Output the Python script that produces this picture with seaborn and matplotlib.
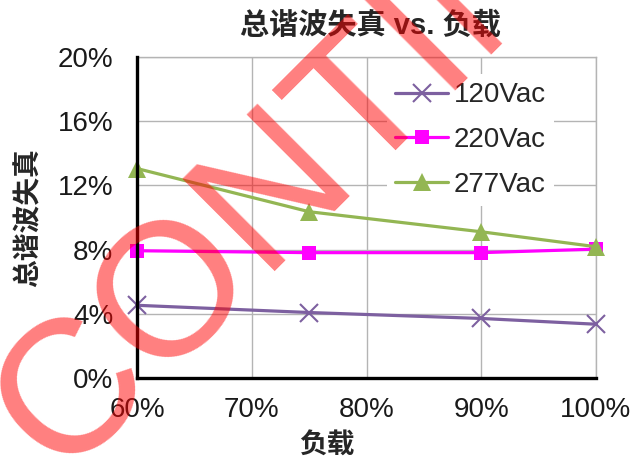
"""Total harmonic distortion vs. load, three input voltages."""

import matplotlib
matplotlib.use("Agg")
import matplotlib.pyplot as plt
import pandas as pd
import seaborn as sns
from matplotlib.ticker import FuncFormatter

# Load points (fraction of full load) and THD readings per input voltage.
LOAD = [0.60, 0.75, 0.90, 1.00]
THD_120 = [0.0453, 0.0408, 0.0371, 0.0335]
THD_220 = [0.0793, 0.0781, 0.0781, 0.0803]
THD_277 = [0.1305, 0.1036, 0.0911, 0.0818]
SERIES = ["120Vac", "220Vac", "277Vac"]
X_TICKS = [0.6, 0.7, 0.8, 0.9, 1.0]
Y_TICKS = [0.0, 0.04, 0.08, 0.12, 0.16, 0.20]

TITLE = "总谐波失真 vs. 负载"
XLABEL = "负载"
YLABEL = "总谐波失真"
WATERMARK = "CONTINENTAL"

_STYLE = {
    "120Vac": dict(color="#7D60A0", marker="x", markersize=13,
                   markeredgewidth=1.5, markeredgecolor="#7D60A0"),
    "220Vac": dict(color="#FF00FF", marker="s", markersize=10,
                   markeredgewidth=0, markeredgecolor="#FF00FF"),
    "277Vac": dict(color="#93B653", marker="^", markersize=13,
                   markeredgewidth=0, markeredgecolor="#93B653"),
}


def _main() -> None:
    df = pd.DataFrame({
        "load": LOAD * 3,
        "thd": THD_120 + THD_220 + THD_277,
        "series": [s for s in SERIES for _ in LOAD],
    })

    sns.set_style("white")
    plt.rcParams["font.family"] = ["Liberation Sans", "Noto Sans CJK SC",
                                   "DejaVu Sans"]

    fig = plt.figure(figsize=(6.32, 4.65), dpi=100)
    ax = fig.add_axes([137 / 632, 1 - 378 / 465, 459 / 632, 321 / 465])

    for name in SERIES:
        sub = df[df.series == name]
        sns.lineplot(data=sub, x="load", y="thd", ax=ax, label=name,
                     linewidth=2.3, clip_on=False, zorder=5, **_STYLE[name])

    ax.set_xlim(0.6, 1.0)
    ax.set_ylim(0.0, 0.20)
    ax.set_xticks(X_TICKS)
    ax.set_yticks(Y_TICKS)
    ax.xaxis.set_major_formatter(FuncFormatter(lambda v, _: f"{v:.0%}"))
    ax.yaxis.set_major_formatter(FuncFormatter(lambda v, _: f"{v:.0%}"))
    ax.tick_params(axis="both", direction="in", length=6, width=2,
                   color="black", labelsize=20, labelcolor="#1a1a1a")
    ax.tick_params(axis="y", pad=17)
    ax.tick_params(axis="x", pad=14)
    ax.grid(True, color="#b4b4b4", linewidth=1)
    ax.set_axisbelow(True)
    for side in ("left", "bottom"):
        ax.spines[side].set_color("black")
        ax.spines[side].set_linewidth(2.4)
        ax.spines[side].set_zorder(6)
    for side in ("top", "right"):
        ax.spines[side].set_color("#b4b4b4")
        ax.spines[side].set_linewidth(1)

    ax.set_xlabel(XLABEL, fontsize=20, fontweight="bold")
    ax.set_ylabel(YLABEL, fontsize=20, fontweight="bold")
    ax.xaxis.set_label_coords((327 - 137) / 459, (378 - 434) / 321)
    ax.yaxis.set_label_coords((43 - 137) / 459, 0.5)
    fig.suptitle(TITLE, x=370 / 632, y=1 - 25 / 465, va="center",
                 fontsize=21, fontweight="bold")

    leg = ax.legend(loc="upper left", bbox_to_anchor=(387 / 632, 1 - 74 / 465),
                    bbox_transform=fig.transFigure, frameon=True,
                    fancybox=False, framealpha=1, edgecolor="none",
                    facecolor="white", fontsize=20, handlelength=1.9,
                    handletextpad=0.2, labelspacing=0.68, borderpad=0.3,
                    borderaxespad=0)
    leg.set_zorder(4)

    fig.text(60 / 632, 1 - 477 / 465, WATERMARK, rotation=45,
             rotation_mode="anchor", ha="left", va="baseline", fontsize=137,
             color="red", alpha=0.5, family="Liberation Sans", zorder=10)

    fig.savefig("out.png", dpi=100, facecolor="white")


if __name__ == "__main__":
    _main()
